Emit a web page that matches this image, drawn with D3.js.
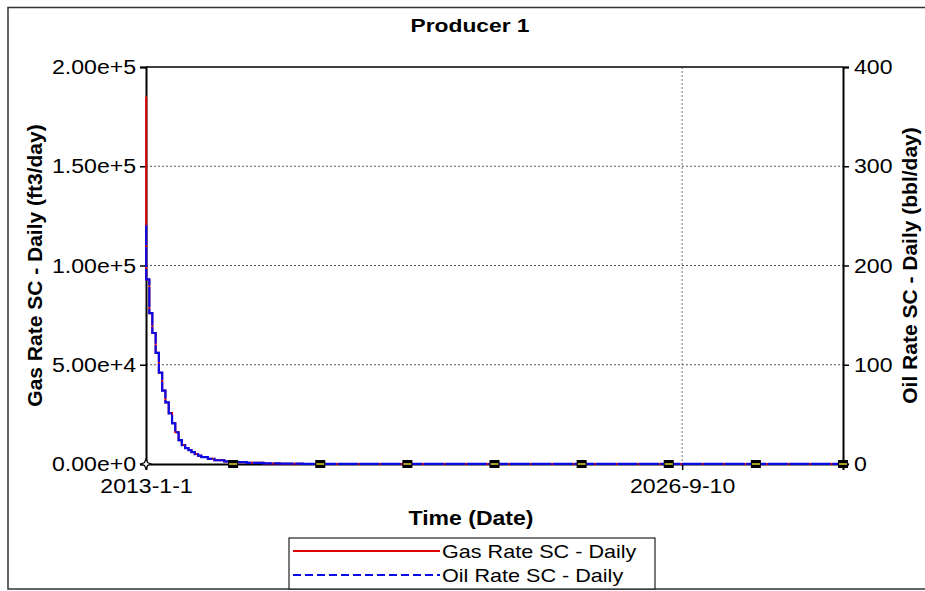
<!DOCTYPE html>
<html>
<head>
<meta charset="utf-8">
<script src="https://cdn.jsdelivr.net/npm/d3@7"></script>
<style>
  body { margin: 0; background: #fff; }
  svg { display: block; font-family: "Liberation Sans", Arial, sans-serif; }
</style>
</head>
<body>
<script>
// series (step values, each holds until next date)
const dates = [
  "2013-01-01", "2013-01-03", "2013-02-01", "2013-03-01", "2013-04-01", "2013-05-01",
  "2013-06-01", "2013-07-01", "2013-08-01", "2013-09-01", "2013-10-01", "2013-11-01",
  "2013-12-01", "2014-01-01", "2014-02-01", "2014-03-01", "2014-04-01", "2014-05-01",
  "2014-06-01", "2014-08-01", "2014-10-01", "2015-01-01", "2015-04-01", "2015-08-01",
  "2016-01-01", "2016-06-01", "2017-01-01", "2018-01-01", "2030-10-19"
];
const gasRate = [
  185000, 93000, 76000, 66000, 56000, 46000,
  37000, 31000, 25700, 20700, 16000, 12000,
  9600, 8000, 7000, 6000, 5000, 4200,
  3500, 2600, 1900, 1300, 900, 600,
  300, 150, 60, 20, 0
];
const oilRate = [
  240, 186, 152, 132, 112, 92,
  74, 62, 51, 41, 32, 24,
  19, 16, 14, 12, 10, 8.4,
  7, 5.2, 3.8, 2.6, 1.8, 1.2,
  0.6, 0.3, 0.12, 0.04, 0
];
const gasTicks = [0, 50000, 100000, 150000, 200000];
const oilTicks = [0, 100, 200, 300, 400];
const dateTicks = ["2013-01-01", "2026-09-10"];
const dateRange = ["2013-01-01", "2030-10-19"];

const width = 925, height = 591;
const margin = { left: 146, right: 82, top: 67, bottom: 127 };
const plotW = width - margin.left - margin.right;
const plotH = height - margin.top - margin.bottom;

const parse = d3.utcParse("%Y-%m-%d");
const gasData = dates.map((d, i) => ({ t: parse(d), v: gasRate[i] }));
const oilData = dates.map((d, i) => ({ t: parse(d), v: oilRate[i] }));

const svg = d3.select("body").append("svg")
    .attr("width", width)
    .attr("height", height);

// outer frame (right side runs off the picture)
svg.append("rect")
    .attr("x", 8).attr("y", 7.5)
    .attr("width", 940).attr("height", 581.5)
    .attr("fill", "none")
    .attr("stroke", "#333")
    .attr("stroke-width", 1.5);

const x = d3.scaleUtc().domain(dateRange.map(parse)).range([0, plotW]);
const yGas = d3.scaleLinear().domain([0, 200000]).range([plotH, 0]);
const yOil = d3.scaleLinear().domain([0, 400]).range([plotH, 0]);

const g = svg.append("g").attr("transform", `translate(${margin.left},${margin.top})`);

// grid
g.append("g").selectAll("line").data(gasTicks.slice(1, -1)).join("line")
    .attr("x1", 0).attr("x2", plotW)
    .attr("y1", d => yGas(d)).attr("y2", d => yGas(d))
    .attr("stroke", "#555").attr("stroke-width", 1).attr("stroke-dasharray", "2,2");
g.append("g").selectAll("line").data(dateTicks.slice(1)).join("line")
    .attr("x1", d => x(parse(d))).attr("x2", d => x(parse(d)))
    .attr("y1", 0).attr("y2", plotH)
    .attr("stroke", "#777").attr("stroke-width", 1).attr("stroke-dasharray", "2,2");

// top border of plot
g.append("line").attr("x1", 0).attr("x2", plotW).attr("y1", 0).attr("y2", 0)
    .attr("stroke", "#000").attr("stroke-width", 1.5);

// axes
const tickFont = "21px";
const axL = g.append("g").call(d3.axisLeft(yGas).tickValues(gasTicks).tickFormat(d3.format(".2e")).tickSizeOuter(0).tickSize(6).tickPadding(3));
const axR = g.append("g").attr("transform", `translate(${plotW},0)`)
    .call(d3.axisRight(yOil).tickValues(oilTicks).tickSizeOuter(0).tickSize(6).tickPadding(4));
const axB = g.append("g").attr("transform", `translate(0,${plotH})`)
    .call(d3.axisBottom(x).tickValues(dateTicks.map(parse))
        .tickFormat(d => `${d.getUTCFullYear()}-${d.getUTCMonth() + 1}-${d.getUTCDate()}`)
        .tickSizeOuter(0).tickSize(6).tickPadding(8));

[axL, axR, axB].forEach(ax => {
    ax.selectAll(".domain").attr("stroke", "#000").attr("stroke-width", 2);
    ax.selectAll(".tick line").attr("stroke", "#000").attr("stroke-width", 1.5);
    ax.selectAll("text")
        .attr("font-size", tickFont)
        .attr("font-family", "Liberation Sans, Arial, sans-serif")
        .attr("fill", "#000")
        .attr("transform", "scale(1.1,1)");
});
axB.selectAll(".tick").filter((d, i) => i === 0).select("line").remove();

// series (drawn over the axis lines, as in the source)
const line = (yScale) => d3.line()
    .x(d => x(d.t)).y(d => yScale(d.v))
    .curve(d3.curveStepAfter);

g.append("path").datum(gasData)
    .attr("d", line(yGas))
    .attr("fill", "none").attr("stroke", "#e00000").attr("stroke-width", 2);
g.append("path").datum(oilData)
    .attr("d", line(yOil))
    .attr("fill", "none").attr("stroke", "#0a0ae6").attr("stroke-width", 2.2)
    .attr("stroke-dasharray", "20,1.5");

// markers along the baseline
const markerDates = d3.range(9).map(i => new Date(+x.domain()[0] + i * (x.domain()[1] - x.domain()[0]) / 8));
const mk = g.append("g").selectAll("g").data(markerDates.slice(1)).join("g")
    .attr("transform", d => `translate(${x(d)},${plotH})`);
mk.append("rect").attr("x", -5).attr("y", -4).attr("width", 10).attr("height", 8).attr("fill", "#000");
mk.append("rect").attr("x", -4).attr("y", -0.7).attr("width", 8).attr("height", 1.4).attr("fill", "#f2e23a");
g.append("path")
    .attr("transform", `translate(${x(markerDates[0])},${plotH})`)
    .attr("d", "M0,-5 L1.5,-1.5 L5,0 L1.5,1.5 L0,5 L-1.5,1.5 L-5,0 L-1.5,-1.5 Z")
    .attr("fill", "#fff").attr("stroke", "#000").attr("stroke-width", 1.2);

// titles
svg.append("text")
    .attr("transform", `translate(470,32) scale(1.2,1)`)
    .attr("text-anchor", "middle")
    .attr("font-size", "19px").attr("font-weight", "bold")
    .text("Producer 1");
svg.append("text")
    .attr("transform", `translate(471,525) scale(1.15,1)`)
    .attr("text-anchor", "middle")
    .attr("font-size", "20px").attr("font-weight", "bold")
    .text("Time (Date)");
svg.append("text")
    .attr("transform", `translate(42,${margin.top + plotH / 2}) rotate(-90)`)
    .attr("text-anchor", "middle")
    .attr("font-size", "21px").attr("font-weight", "bold")
    .text("Gas Rate SC - Daily (ft3/day)");
svg.append("text")
    .attr("transform", `translate(917,${margin.top + plotH / 2}) rotate(-90)`)
    .attr("text-anchor", "middle")
    .attr("font-size", "21px").attr("font-weight", "bold")
    .text("Oil Rate SC - Daily (bbl/day)");

// legend
const legend = svg.append("g").attr("transform", "translate(289,538)");
legend.append("rect").attr("width", 366).attr("height", 51)
    .attr("fill", "#fff").attr("stroke", "#222").attr("stroke-width", 1.2);
const items = [
    { name: "Gas Rate SC - Daily", color: "#e00000", dash: null },
    { name: "Oil Rate SC - Daily", color: "#0a0ae6", dash: "8,4" }
];
const li = legend.selectAll("g.item").data(items).join("g")
    .attr("class", "item")
    .attr("transform", (d, i) => `translate(0,${13 + i * 24})`);
li.append("line").attr("x1", 4).attr("x2", 151)
    .attr("stroke", d => d.color).attr("stroke-width", 2)
    .attr("stroke-dasharray", d => d.dash);
li.append("text")
    .attr("transform", "translate(153,7) scale(1.2,1)")
    .attr("font-size", "18px")
    .text(d => d.name);
</script>
</body>
</html>
